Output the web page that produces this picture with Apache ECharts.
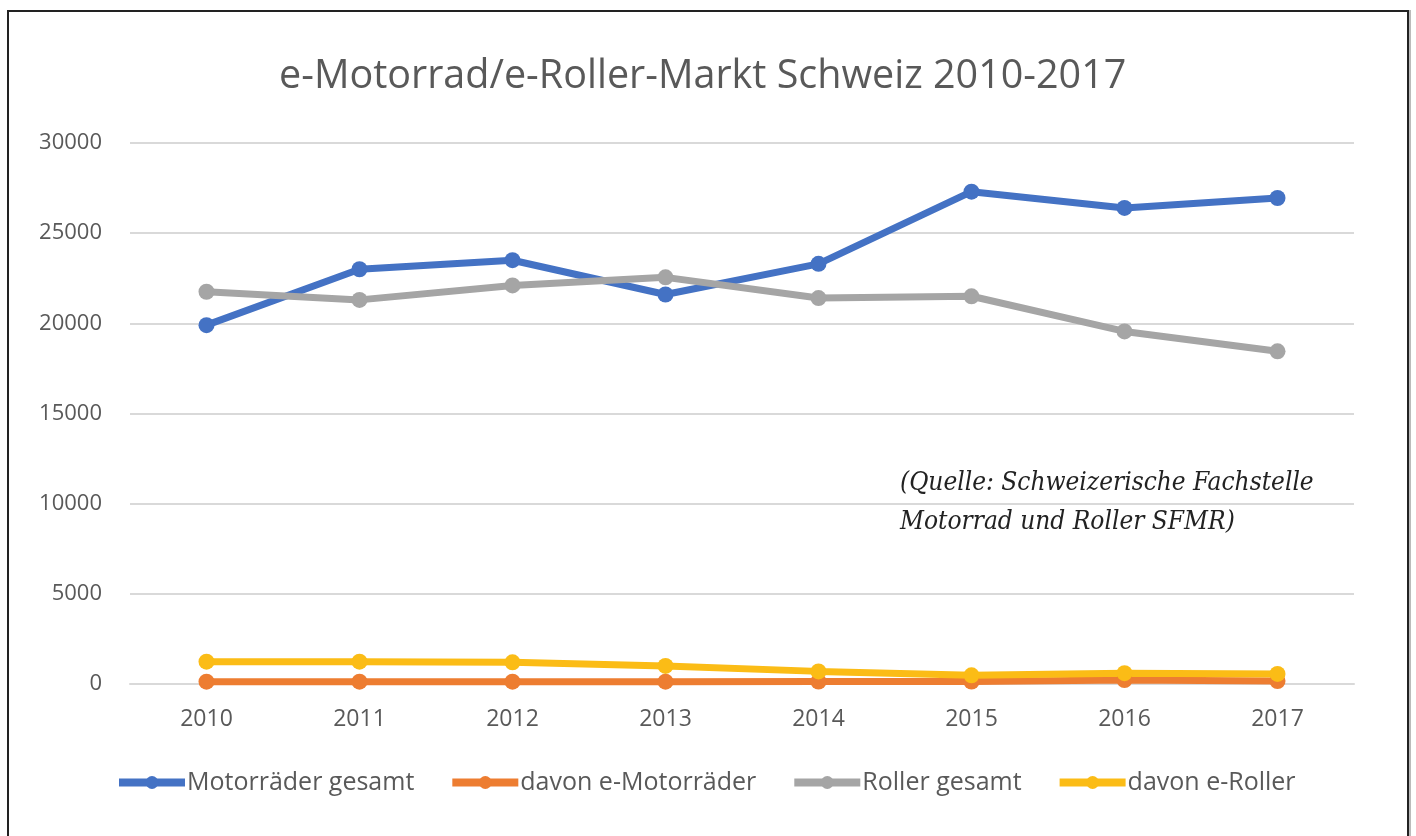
<!DOCTYPE html>
<html>
<head>
<meta charset="utf-8">
<script src="https://cdn.jsdelivr.net/npm/echarts@6/dist/echarts.min.js"></script>
<style>
  html, body { margin: 0; padding: 0; background: #fff; overflow: hidden; }
  #frame {
    position: absolute; left: 7px; top: 10px; width: 1402px; height: 840px;
    border: 2px solid #222; box-shadow: 2px 0 0 #bbb; box-sizing: border-box;
  }
  #chart { position: absolute; left: 0; top: 0; width: 1416px; height: 836px; }
</style>
</head>
<body>
<div id="frame"></div>
<div id="chart"></div>
<script>
const years = ["2010", "2011", "2012", "2013", "2014", "2015", "2016", "2017"];
const motorraederGesamt = [19900, 23000, 23500, 21600, 23300, 27300, 26400, 26950];
const davonEMotorraeder = [130, 130, 130, 130, 140, 140, 220, 160];
const rollerGesamt = [21750, 21300, 22100, 22550, 21400, 21500, 19550, 18450];
const davonERoller = [1240, 1240, 1200, 1000, 700, 480, 600, 560];
const yTicks = { min: 0, max: 30000, interval: 5000 };

const textGrey = "#595959";

function lineSeries(name, data, color) {
  return {
    name,
    type: "line",
    data,
    symbol: "circle",
    symbolSize: 16,
    lineStyle: { color, width: 7 },
    itemStyle: { color },
  };
}

const chart = echarts.init(document.getElementById("chart"), null, { renderer: "canvas" });

chart.setOption({
  animation: false,
  backgroundColor: "transparent",
  title: {
    text: "e-Motorrad/e-Roller-Markt Schweiz 2010-2017",
    left: 274,
    top: 52,
    textStyle: { fontFamily: "Open Sans", fontWeight: "normal", fontSize: 39.5, color: textGrey },
  },
  grid: { left: 130, right: 62, top: 143, bottom: 152 },
  legend: {
    bottom: 36,
    left: 110,
    itemWidth: 66,
    itemHeight: 16,
    itemGap: 34,
    lineStyle: { width: 8 },
    textStyle: { fontFamily: "Open Sans", fontSize: 25, color: textGrey, padding: [0, 0, 0, -3] },
  },
  xAxis: {
    type: "category",
    data: years,
    boundaryGap: true,
    axisLine: { show: true, lineStyle: { color: "#d9d9d9", width: 2 } },
    axisTick: { show: false },
    axisLabel: { fontFamily: "Open Sans", fontSize: 23, color: textGrey, margin: 24 },
  },
  yAxis: {
    type: "value",
    min: yTicks.min,
    max: yTicks.max,
    interval: yTicks.interval,
    axisLine: { show: false },
    axisTick: { show: false },
    axisLabel: {
      fontFamily: "Open Sans", fontSize: 22, color: textGrey, margin: 28,
      formatter: value => String(value),
    },
    splitLine: { lineStyle: { color: "#d9d9d9", width: 2 } },
  },
  graphic: [
    {
      type: "text",
      left: 900,
      top: 464,
      style: {
        text: "(Quelle: Schweizerische Fachstelle\nMotorrad und Roller SFMR)",
        font: "italic 26px 'DejaVu Serif Condensed', 'Liberation Serif', serif",
        lineHeight: 39,
        fill: "#222",
      },
    },
  ],
  series: [
    lineSeries("Motorräder gesamt", motorraederGesamt, "#4472C4"),
    lineSeries("davon e-Motorräder", davonEMotorraeder, "#ED7D31"),
    lineSeries("Roller gesamt", rollerGesamt, "#A5A5A5"),
    lineSeries("davon e-Roller", davonERoller, "#FBBC16"),
  ],
});
</script>
</body>
</html>
